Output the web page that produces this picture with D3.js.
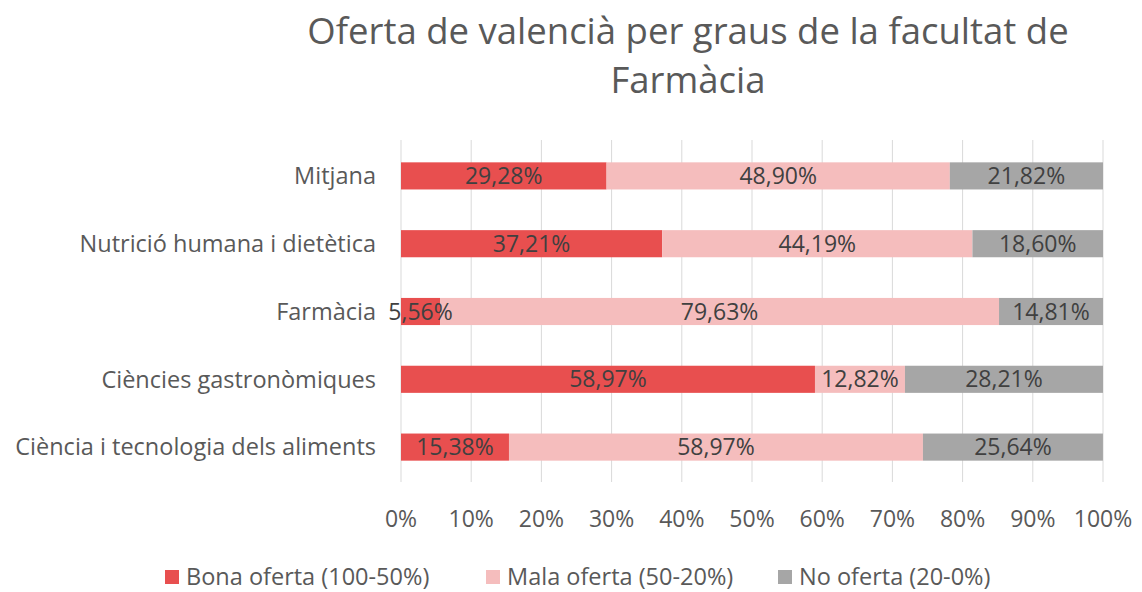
<!DOCTYPE html>
<html>
<head>
<meta charset="utf-8">
<script src="https://cdn.jsdelivr.net/npm/d3@7"></script>
<style>
  body { margin: 0; background: #fff; }
  text { font-family: "Open Sans", sans-serif; }
</style>
</head>
<body>
<div id="chart"></div>
<script>
const categories = ['Mitjana', 'Nutrició humana i dietètica', 'Farmàcia', 'Ciències gastronòmiques', 'Ciència i tecnologia dels aliments'];
const seriesNames = ['Bona oferta (100-50%)', 'Mala oferta (50-20%)', 'No oferta (20-0%)'];
const bona = [29.28, 37.21, 5.56, 58.97, 15.38];
const mala = [48.90, 44.19, 79.63, 12.82, 58.97];
const noOf = [21.82, 18.60, 14.81, 28.21, 25.64];
const ticks = [0, 10, 20, 30, 40, 50, 60, 70, 80, 90, 100];
const colors = ['#e84f4f', '#f5bdbd', '#a6a6a6'];

const width = 1142, height = 592;

const rows = categories.map((c, i) => ({ cat: c, b: bona[i], m: mala[i], n: noOf[i] }));
const stack = d3.stack().keys(['b', 'm', 'n'])(rows);

const x = d3.scaleLinear().domain([0, 100]).range([401, 1103]);
const y = d3.scaleBand().domain(categories).range([142, 481]).paddingInner(0.6).paddingOuter(0.3);

const svg = d3.select('#chart').append('svg')
  .attr('width', width)
  .attr('height', height);

// title
svg.append('text')
  .attr('x', 688).attr('y', 44)
  .attr('text-anchor', 'middle')
  .attr('fill', '#595959')
  .style('font-size', '36.5px')
  .text('Oferta de valencià per graus de la facultat de');
svg.append('text')
  .attr('x', 688).attr('y', 93)
  .attr('text-anchor', 'middle')
  .attr('fill', '#595959')
  .style('font-size', '36.5px')
  .text('Farmàcia');

// gridlines
svg.append('g')
  .selectAll('line')
  .data(ticks)
  .enter().append('line')
  .attr('x1', d => x(d)).attr('x2', d => x(d))
  .attr('y1', 140).attr('y2', 482)
  .attr('stroke', '#d9d9d9')
  .attr('stroke-width', 1);

// bars
const layer = svg.selectAll('.layer')
  .data(stack)
  .enter().append('g')
  .attr('fill', (d, i) => colors[i]);

layer.selectAll('rect')
  .data(d => d)
  .enter().append('rect')
  .attr('x', d => x(d[0]))
  .attr('y', d => y(d.data.cat))
  .attr('width', d => x(d[1]) - x(d[0]))
  .attr('height', y.bandwidth());

const fmt = v => v.toFixed(2).replace('.', ',') + '%';

// data labels on top of every bar
const labelData = [];
stack.forEach(s => s.forEach(p => labelData.push({ p: p, key: s.key })));

svg.append('g')
  .selectAll('text')
  .data(labelData)
  .enter().append('text')
  .attr('x', d => (x(d.p[0]) + x(d.p[1])) / 2)
  .attr('y', d => y(d.p.data.cat) + y.bandwidth() / 2)
  .attr('dy', '0.35em')
  .attr('text-anchor', 'middle')
  .attr('fill', '#404040')
  .style('font-size', '23px')
  .text(d => fmt(d.p.data[d.key]));

// category labels
svg.append('g')
  .selectAll('text')
  .data(categories)
  .enter().append('text')
  .attr('x', 376)
  .attr('y', d => y(d) + y.bandwidth() / 2)
  .attr('dy', '0.35em')
  .attr('text-anchor', 'end')
  .attr('fill', '#595959')
  .style('font-size', '23.5px')
  .text(d => d);

// x tick labels
svg.append('g')
  .selectAll('text')
  .data(ticks)
  .enter().append('text')
  .attr('x', d => x(d))
  .attr('y', 519)
  .attr('dy', '0.35em')
  .attr('text-anchor', 'middle')
  .attr('fill', '#595959')
  .style('font-size', '23px')
  .text(d => d + '%');

// legend
const legX = [165, 486, 778];
const leg = svg.append('g')
  .selectAll('g')
  .data(seriesNames)
  .enter().append('g')
  .attr('transform', (d, i) => 'translate(' + legX[i] + ',577)');
leg.append('rect')
  .attr('x', 0).attr('y', -7)
  .attr('width', 14).attr('height', 14)
  .attr('fill', (d, i) => colors[i]);
leg.append('text')
  .attr('x', 21).attr('dy', '0.35em')
  .attr('fill', '#595959')
  .style('font-size', '23.5px')
  .text(d => d);
</script>
</body>
</html>
